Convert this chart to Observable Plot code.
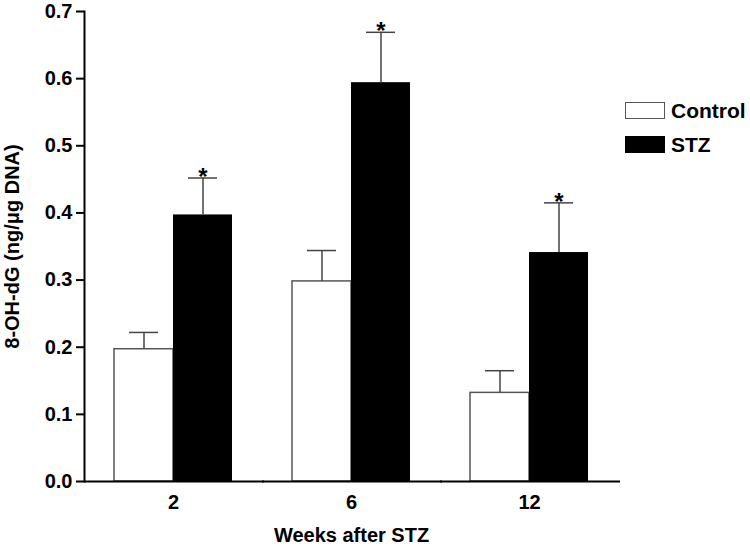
<!DOCTYPE html>
<html>
<head>
<meta charset="utf-8">
<script src="https://cdn.jsdelivr.net/npm/d3@7"></script>
<script src="https://cdn.jsdelivr.net/npm/@observablehq/plot@0.6"></script>
<style>
  body { margin: 0; background: #fff; }
  #wrap { position: relative; width: 750px; height: 551px; font-family: 'Liberation Sans', Arial, sans-serif; }
  .legend { position: absolute; left: 625px; top: 102px; }
  .legend .item { display: flex; align-items: center; height: 17px; margin-bottom: 17px; }
  .legend .sw { width: 40px; height: 17px; box-sizing: border-box; margin-right: 6px; }
  .legend .lab { font-weight: bold; font-size: 21px; line-height: 17px; color: #000; }
</style>
</head>
<body>
<div id="wrap"></div>
<script>
const weeks = ["2", "6", "12"];
const groups = ["Control", "STZ"];
const groupFill = ["#ffffff", "#000000"];
const controlMean = [0.197, 0.298, 0.132];
const controlErr = [0.025, 0.046, 0.033];
const stzMean = [0.397, 0.594, 0.341];
const stzErr = [0.055, 0.075, 0.074];
const stzSignificance = ["*", "*", "*"];
const yTicks = [0, 0.1, 0.2, 0.3, 0.4, 0.5, 0.6, 0.7];

const data = weeks.flatMap((w, i) => [
  {week: w, group: groups[0], mean: controlMean[i], err: controlErr[i], sig: ""},
  {week: w, group: groups[1], mean: stzMean[i], err: stzErr[i], sig: stzSignificance[i]}
]);

const chart = Plot.plot({
  width: 750,
  height: 551,
  marginLeft: 84,
  marginRight: 132,
  marginTop: 11,
  marginBottom: 70,
  style: {fontFamily: "'Liberation Sans', Arial, sans-serif", fontWeight: "bold", fontSize: "20px", color: "#000", background: "#fff"},
  fx: {domain: weeks, paddingInner: 0, paddingOuter: 0, label: null},
  x: {domain: groups, paddingInner: 0, paddingOuter: 0.5, axis: null},
  y: {domain: [0, 0.7], axis: null},
  marks: [
    Plot.barY(data.filter(d => d.group === groups[0]), {fx: "week", x: "group", y: "mean", fill: groupFill[0], stroke: "#555", strokeWidth: 1.5}),
    Plot.barY(data.filter(d => d.group === groups[1]), {fx: "week", x: "group", y: "mean", fill: groupFill[1]}),
    Plot.ruleX(data, {fx: "week", x: "group", y1: "mean", y2: d => d.mean + d.err, stroke: "#444", strokeWidth: 1.5}),
    Plot.tickY(data, {fx: "week", x: "group", y: d => d.mean + d.err, stroke: "#444", strokeWidth: 1.5, insetLeft: 15, insetRight: 15}),
    Plot.text(data.filter(d => d.sig), {fx: "week", x: "group", y: d => d.mean + d.err, text: "sig", dy: -1, fontSize: 24, fontWeight: "bold", fill: "#000"}),
    Plot.ruleY([0], {stroke: "#000", strokeWidth: 2, insetRight: -2}),
    Plot.frame({anchor: "left", facet: "super", stroke: "#000", strokeWidth: 2}),
    Plot.axisY({ticks: yTicks, tickFormat: d3.format(".1f"), tickSize: 8, tickPadding: 4, strokeWidth: 2, fontSize: 20,
      label: "8-OH-dG (ng/μg DNA)", labelAnchor: "center", labelOffset: 80, labelArrow: "none"}),
    Plot.axisFx({anchor: "bottom", tickSize: 0, tickPadding: 13, fontSize: 20,
      label: "Weeks after STZ", labelAnchor: "center", labelOffset: 60, labelArrow: "none"})
  ]
});

const wrap = document.getElementById("wrap");
wrap.appendChild(chart);

const legend = document.createElement("div");
legend.className = "legend";
groups.forEach((g, i) => {
  const item = document.createElement("div");
  item.className = "item";
  const sw = document.createElement("div");
  sw.className = "sw";
  sw.style.background = groupFill[i];
  sw.style.border = i === 0 ? "1.5px solid #555" : "none";
  const lab = document.createElement("span");
  lab.className = "lab";
  lab.textContent = g;
  item.appendChild(sw);
  item.appendChild(lab);
  legend.appendChild(item);
});
wrap.appendChild(legend);
</script>
</body>
</html>
